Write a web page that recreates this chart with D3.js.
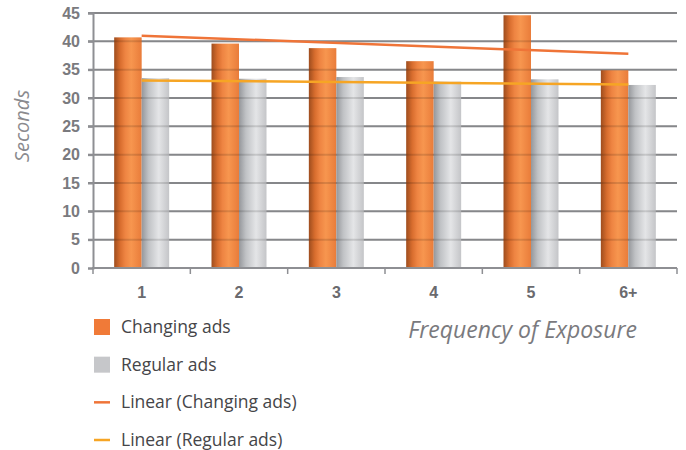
<!DOCTYPE html>
<html>
<head>
<meta charset="utf-8">
<script src="https://cdn.jsdelivr.net/npm/d3@7"></script>
<style>
  body { margin: 0; background: #fff; }
  svg { display: block; }
</style>
</head>
<body>
<div class="chart"></div>
<script>
document.addEventListener("DOMContentLoaded", runD3)

// data
var categories = ["1", "2", "3", "4", "5", "6+"]
var series = ["Changing ads", "Regular ads"]
var changingAds = [40.7, 39.6, 38.8, 36.5, 44.6, 34.9]
var regularAds = [33.5, 33.4, 33.7, 32.9, 33.3, 32.3]
// trend line values at first and last category
var trendChanging = [41.0, 37.8]
var trendRegular = [33.1, 32.4]
var yTicks = [0, 5, 10, 15, 20, 25, 30, 35, 40, 45]

function runD3() {
  var width = 686,
    height = 450,
    left = 93, right = 677, top = 13, bottom = 268;

  var svg = d3.select(".chart").append("svg")
    .attr("width", width)
    .attr("height", height)

  var defs = svg.append("defs")
  var og = defs.append("linearGradient").attr("id", "orangeGrad")
  og.append("stop").attr("offset", "0%").attr("stop-color", "#9e4d1e")
  og.append("stop").attr("offset", "22%").attr("stop-color", "#d86d2e")
  og.append("stop").attr("offset", "40%").attr("stop-color", "#ee8442")
  og.append("stop").attr("offset", "62%").attr("stop-color", "#f7964f")
  og.append("stop").attr("offset", "100%").attr("stop-color", "#e97c3a")
  var gg = defs.append("linearGradient").attr("id", "greyGrad")
  gg.append("stop").attr("offset", "0%").attr("stop-color", "#95979b")
  gg.append("stop").attr("offset", "25%").attr("stop-color", "#c0c2c5")
  gg.append("stop").attr("offset", "62%").attr("stop-color", "#e4e5e7")
  gg.append("stop").attr("offset", "100%").attr("stop-color", "#c4c5c8")

  var x0 = d3.scaleBand().domain(categories).range([left, right]).padding(0)
  var x1 = d3.scaleBand().domain(series).range([0, x0.bandwidth()])
    .paddingInner(0).paddingOuter(0.77)
  var y = d3.scaleLinear().domain([0, 45]).range([bottom, top])

  var fills = { "Changing ads": "url(#orangeGrad)", "Regular ads": "url(#greyGrad)" }
  var rows = categories.map((c, i) => ({
    cat: c,
    vals: [
      { key: "Changing ads", value: changingAds[i] },
      { key: "Regular ads", value: regularAds[i] }
    ]
  }))

  // gridlines under bars
  svg.append("g").selectAll("line")
    .data(yTicks.filter(d => d > 0))
    .enter().append("line")
    .attr("x1", left - 5).attr("x2", right)
    .attr("y1", d => y(d)).attr("y2", d => y(d))
    .attr("stroke", "#9a9b9f").attr("stroke-width", 2)

  // bars
  svg.append("g").selectAll("g")
    .data(rows)
    .enter().append("g")
    .attr("transform", d => `translate(${x0(d.cat)},0)`)
    .selectAll("rect")
    .data(d => d.vals)
    .enter().append("rect")
    .attr("x", d => x1(d.key))
    .attr("width", x1.bandwidth())
    .attr("y", d => y(d.value))
    .attr("height", d => y(0) - y(d.value))
    .attr("fill", d => fills[d.key])

  // gridlines shading over the bars
  svg.append("g").selectAll("line")
    .data(yTicks.filter(d => d > 0))
    .enter().append("line")
    .attr("x1", left - 5).attr("x2", right)
    .attr("y1", d => y(d)).attr("y2", d => y(d))
    .attr("stroke", "#000").attr("stroke-opacity", 0.13).attr("stroke-width", 2)

  // axes
  var yAxis = svg.append("g")
    .attr("transform", `translate(${left},0)`)
    .call(d3.axisLeft(y).tickValues(yTicks).tickSize(5).tickPadding(8))
  yAxis.select(".domain").attr("stroke", "#8e8f93").attr("stroke-width", 2)
  yAxis.selectAll(".tick line").attr("stroke", "#8e8f93").attr("stroke-width", 2)
  yAxis.selectAll("text")
    .attr("fill", "#7a7a7e")
    .style("font", "bold 16px 'Liberation Sans', Arial, sans-serif")

  var xAxis = svg.append("g")
    .attr("transform", `translate(0,${bottom})`)
    .call(d3.axisBottom(x0).tickSize(0).tickPadding(19))
  xAxis.select(".domain").remove()
  xAxis.selectAll("text")
    .attr("fill", "#6a6a6e")
    .style("font", "bold 16px 'Liberation Sans', Arial, sans-serif")

  svg.append("line")
    .attr("x1", left - 1).attr("x2", right)
    .attr("y1", bottom).attr("y2", bottom)
    .attr("stroke", "#8e8f93").attr("stroke-width", 2)
  svg.append("g").selectAll("line")
    .data(categories.concat(["end"]))
    .enter().append("line")
    .attr("x1", (d, i) => i < categories.length ? x0(d) : right)
    .attr("x2", (d, i) => i < categories.length ? x0(d) : right)
    .attr("y1", bottom).attr("y2", bottom + 6)
    .attr("stroke", "#8e8f93").attr("stroke-width", 1.5)

  // trend lines
  var cx = d => x0(d) + x0.bandwidth() / 2
  var first = categories[0], last = categories[categories.length - 1]
  var trends = [
    { vals: trendChanging, color: "#ef7438" },
    { vals: trendRegular, color: "#f6a524" }
  ]
  svg.append("g").selectAll("line")
    .data(trends)
    .enter().append("line")
    .attr("x1", cx(first)).attr("x2", cx(last))
    .attr("y1", d => y(d.vals[0])).attr("y2", d => y(d.vals[1]))
    .attr("stroke", d => d.color).attr("stroke-width", 2.5)

  // axis titles
  svg.append("text")
    .attr("transform", "translate(29,126) rotate(-90)")
    .attr("text-anchor", "middle")
    .attr("fill", "#8a8a8e")
    .style("font", "italic 20px 'Open Sans', 'Noto Sans', sans-serif")
    .text("Seconds")

  svg.append("text")
    .attr("x", 637).attr("y", 338)
    .attr("text-anchor", "end")
    .attr("fill", "#7a7a7e")
    .style("font", "italic 23px 'Open Sans', 'Noto Sans', sans-serif")
    .text("Frequency of Exposure")

  // legend
  var legendItems = [
    { label: "Changing ads", type: "rect", fill: "#f07a38" },
    { label: "Regular ads", type: "rect", fill: "#c6c7ca" },
    { label: "Linear (Changing ads)", type: "line", fill: "#ef7438" },
    { label: "Linear (Regular ads)", type: "line", fill: "#f6a524" }
  ]
  var legendY = d3.scaleLinear().domain([0, 3]).range([327, 440])
  var legend = svg.append("g").selectAll("g")
    .data(legendItems)
    .enter().append("g")
    .attr("transform", (d, i) => `translate(94,${legendY(i)})`)

  legend.filter(d => d.type === "rect").append("rect")
    .attr("x", 0).attr("y", -8).attr("width", 16).attr("height", 16)
    .attr("fill", d => d.fill)
  legend.filter(d => d.type === "line").append("line")
    .attr("x1", 0).attr("x2", 16).attr("y1", 0).attr("y2", 0)
    .attr("stroke", d => d.fill).attr("stroke-width", 2.5)
  legend.append("text")
    .attr("x", 27).attr("y", 6)
    .attr("fill", "#454548")
    .style("font", "17.5px 'Open Sans', 'Noto Sans', sans-serif")
    .text(d => d.label)
}
</script>
</body>
</html>
